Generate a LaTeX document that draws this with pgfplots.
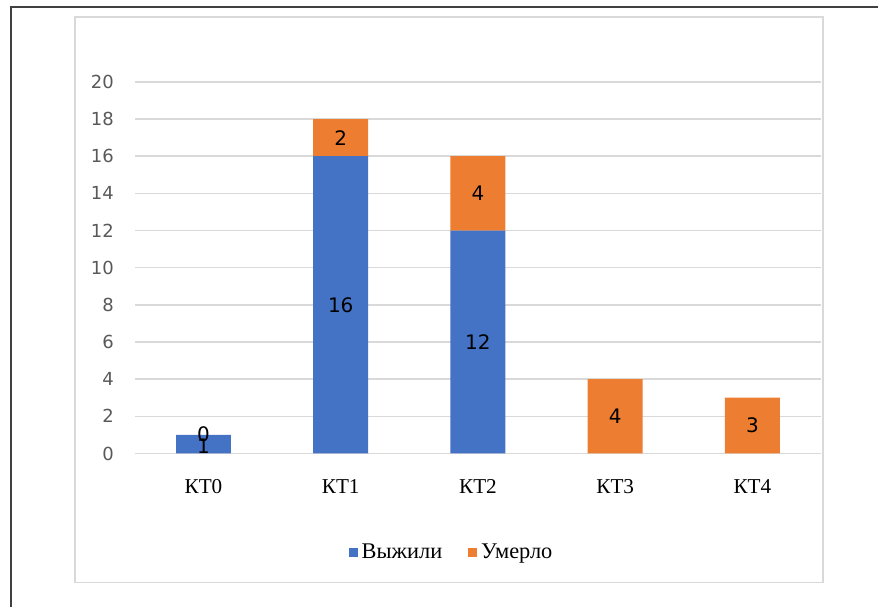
\documentclass[border=0pt]{standalone}
\usepackage{fontspec}
\setmainfont{Liberation Serif}
\newfontfamily\dejavu{DejaVu Sans}
\usepackage{pgfplots}
\pgfplotsset{compat=1.18}
\definecolor{cblue}{HTML}{4472C4}
\definecolor{corange}{HTML}{ED7D31}
\definecolor{cgrid}{HTML}{D9D9D9}
\definecolor{ctick}{HTML}{595959}
\definecolor{cframe}{HTML}{404040}
\begin{document}
\begin{tikzpicture}
\path (0,0) rectangle (439.5pt,304pt);
\draw[cframe, line width=1pt] (5.5pt,0pt) -- (5.5pt,300.5pt) -- (439.5pt,300.5pt);
\draw[cgrid, line width=0.75pt] (37.5pt,12.5pt) rectangle (412pt,295.5pt);
\begin{axis}[
  at={(67.5pt,77pt)}, anchor=south west,
  width=343.5pt, height=186pt, scale only axis,
  xmin=-0.5, xmax=4.5, ymin=0, ymax=20,
  ybar stacked, bar width=27.5pt,
  ytick={0,2,...,20},
  xtick={0,1,2,3,4},
  xticklabels={КТ0,КТ1,КТ2,КТ3,КТ4},
  ymajorgrids, grid style={cgrid, line width=0.75pt},
  axis line style={draw=none}, tick style={draw=none},
  /pgf/number format/assume math mode=true,
  yticklabel style={font=\dejavu\fontsize{9}{10}\selectfont, text=ctick, anchor=east, xshift=-7pt},
  xticklabel style={font=\fontsize{10.6}{12}\selectfont, anchor=base, yshift=-20pt},
  legend style={at={(0.463,-0.266)}, anchor=center, draw=none, legend columns=2,
    font=\fontsize{11.2}{13}\selectfont,
    /tikz/every even column/.append style={column sep=11pt}},
  legend image code/.code={\fill[#1] (0pt,-2.25pt) rectangle (4.5pt,2.25pt);},
  clip=false,
]
\addplot[fill=cblue, draw=none] coordinates {(0,1) (1,16) (2,12) (3,0) (4,0)};
\addlegendentry{Выжили}
\addplot[fill=corange, draw=none] coordinates {(0,0) (1,2) (2,4) (3,4) (4,3)};
\addlegendentry{Умерло}
\end{axis}
\begin{axis}[
  at={(67.5pt,77pt)}, anchor=south west,
  width=343.5pt, height=186pt, scale only axis,
  xmin=-0.5, xmax=4.5, ymin=0, ymax=20,
  hide axis, clip=false,
]
\addplot[draw=none, mark=none, nodes near coords, point meta=explicit symbolic,
  every node near coord/.append style={anchor=center, font=\dejavu\fontsize{10}{12}\selectfont, text=black}]
  coordinates {(0,0.4)[1] (1,8)[16] (2,6)[12] (0,1.05)[0] (1,17)[2] (2,14)[4] (3,2)[4] (4,1.5)[3]};
\end{axis}
\end{tikzpicture}
\end{document}
